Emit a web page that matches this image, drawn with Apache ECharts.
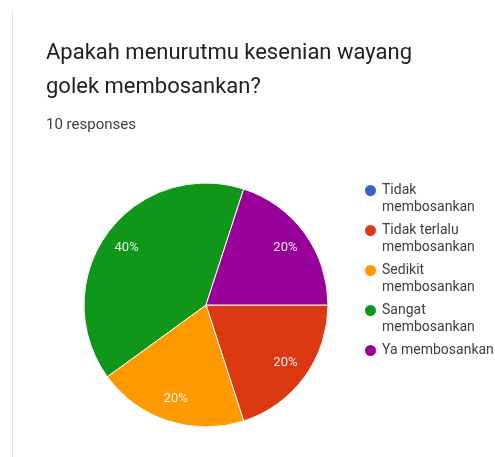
<!DOCTYPE html>
<html>
<head>
<meta charset="utf-8">
<script src="https://cdn.jsdelivr.net/npm/echarts@6/dist/echarts.min.js"></script>
<style>
  html, body { margin: 0; padding: 0; background: #ffffff; }
  #chart { width: 495px; height: 457px; }
</style>
</head>
<body>
<div id="chart"></div>
<script>
// Survey question and answer counts
const questionText = 'Apakah menurutmu kesenian wayang\ngolek membosankan?';
const responsesText = '10 responses';
const answerLabels = [
  'Tidak membosankan',
  'Tidak terlalu membosankan',
  'Sedikit membosankan',
  'Sangat membosankan',
  'Ya membosankan'
];
// legend text split into lines
const legendLines = [
  ['Tidak', 'membosankan'],
  ['Tidak terlalu', 'membosankan'],
  ['Sedikit', 'membosankan'],
  ['Sangat', 'membosankan'],
  ['Ya membosankan']
];
const answerCounts = [0, 2, 2, 4, 2];
const sliceColors = ['#3366cc', '#dc3912', '#ff9900', '#109618', '#990099'];

const pieData = answerLabels.map((name, i) => ({
  name: name,
  value: answerCounts[i],
  itemStyle: { color: sliceColors[i] }
}));

const chart = echarts.init(document.getElementById('chart'), null, { renderer: 'canvas' });

const FONT = 'Roboto, "Noto Sans", sans-serif';
const CENTER = [206, 305];
const RADIUS = 122;

chart.setOption({
  animation: false,
  backgroundColor: '#ffffff',
  title: [
    {
      text: questionText,
      left: 46,
      top: 36,
      padding: 0,
      textStyle: {
        fontFamily: FONT,
        fontSize: 22,
        fontWeight: 'normal',
        lineHeight: 34,
        color: '#202124'
      }
    },
    {
      text: responsesText,
      left: 46,
      top: 115,
      padding: 0,
      textStyle: {
        fontFamily: FONT,
        fontSize: 15,
        fontWeight: 'normal',
        lineHeight: 20,
        color: '#3c4043'
      }
    }
  ],
  legend: {
    orient: 'vertical',
    left: 363,
    top: 165,
    padding: 0,
    itemGap: -11,
    itemWidth: 13,
    itemHeight: 13,
    icon: 'circle',
    selectedMode: false,
    data: answerLabels,
    formatter: function (name) {
      const lines = legendLines[answerLabels.indexOf(name)].slice();
      // pad to three lines so the marker lines up with the first text line
      if (lines.length < 2) lines.push(' ');
      return ' \n' + lines.join('\n');
    },
    textStyle: {
      fontFamily: FONT,
      fontSize: 14,
      lineHeight: 17,
      color: '#3c4043'
    }
  },
  series: [
    {
      name: 'answers',
      type: 'pie',
      center: CENTER,
      radius: RADIUS,
      startAngle: 0,
      clockwise: true,
      silent: true,
      label: { show: false },
      labelLine: { show: false },
      itemStyle: { borderColor: '#ffffff', borderWidth: 1 },
      data: pieData
    },
    {
      // transparent ring carrying the percentage labels
      name: 'percent labels',
      type: 'pie',
      center: CENTER,
      radius: [RADIUS * 0.56, RADIUS],
      startAngle: 0,
      clockwise: true,
      silent: true,
      itemStyle: { color: 'rgba(0,0,0,0)', borderWidth: 0 },
      labelLine: { show: false },
      label: {
        show: true,
        position: 'inside',
        fontFamily: FONT,
        fontSize: 13,
        color: 'rgba(255,255,255,0.9)',
        formatter: p => (p.value ? Math.round(p.percent) + '%' : '')
      },
      data: answerCounts.map((v, i) => ({ name: answerLabels[i], value: v }))
    }
  ],
  graphic: [
    {
      type: 'line',
      shape: { x1: 12.5, y1: 11, x2: 12.5, y2: 457 },
      style: { stroke: '#e4e4e4', lineWidth: 1 }
    }
  ]
});
</script>
</body>
</html>
